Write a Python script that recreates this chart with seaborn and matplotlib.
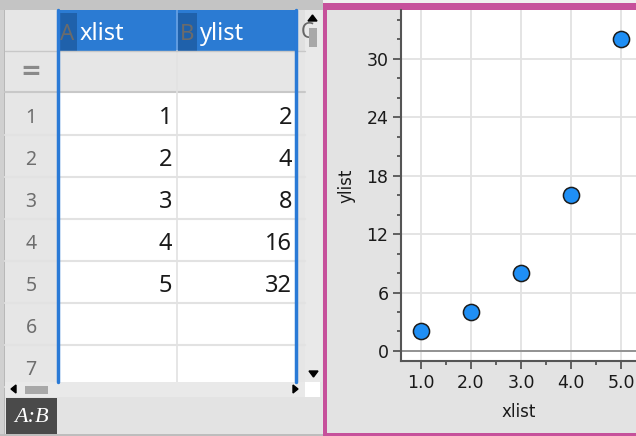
import matplotlib
matplotlib.use("Agg")
import matplotlib.pyplot as plt
from matplotlib.patches import Rectangle, Polygon
import seaborn as sns
import pandas as pd

# ---- data ----
col_names = ["xlist", "ylist"]
col_letters = ["A", "B"]
xlist = [1, 2, 3, 4, 5]
ylist = [2, 4, 8, 16, 32]
row_numbers = [1, 2, 3, 4, 5, 6, 7]
x_ticks = [1.0, 2.0, 3.0, 4.0, 5.0]
y_ticks = [0, 6, 12, 18, 24, 30]

sns.set_theme(style="white")
plt.rcParams['font.family'] = ['DejaVu Sans']

W, H = 636, 436
fig = plt.figure(figsize=(W / 100, H / 100), dpi=100)
fig.patch.set_facecolor("#e3e3e3")

# background / spreadsheet axes in pixel coordinates
bg = fig.add_axes([0, 0, 1, 1])
bg.set_xlim(0, W)
bg.set_ylim(H, 0)
bg.axis("off")

def rect(x0, y0, x1, y1, color, z=1, **kw):
    bg.add_patch(Rectangle((x0, y0), x1 - x0, y1 - y0, facecolor=color,
                           edgecolor="none", zorder=z, **kw))

# left panel base
rect(0, 0, 323, H, "#e6e6e6", 0)
rect(0, 0, 323, 10, "#c4c4c4", 1)          # top strip
rect(0, 10, 4, 436, "#d0d0d0", 1)          # left edge
rect(4, 10, 5, 434, "#b8b8b8", 1)
# header row
rect(5, 10, 57, 51, "#e6e6e6", 1)
rect(57, 10, 297, 51, "#2b7bd3", 1)
rect(297, 10, 305, 51, "#e0e0e0", 1)
rect(176, 10, 177.5, 51, "#5f9be0", 2)
bg.text(301, 33, "C", color="#666666", fontsize=15, va="center", ha="left", zorder=3,
        clip_on=True, family="Noto Sans")
rect(305, 10, 322, 382, "#e9e9e9", 2)
# letter boxes + names
for i, (let, nm) in enumerate(zip(col_letters, col_names)):
    x0 = 57 + i * 120
    rect(x0 + 1, 13, x0 + 20, 51, "#1f61ab", 2)
    bg.text(x0 + 10.5, 34, let, color="#6b6b6b", fontsize=16, ha="center", va="center",
            zorder=3, family="Noto Sans")
    bg.text(x0 + 23, 33.5, nm, color="white", fontsize=17, ha="left", va="center",
            zorder=3, family="Noto Sans")
# formula row
rect(57, 51, 297, 93, "#e6e6e6", 1)
bg.plot([5, 305], [92, 92], color="#c8c8c8", lw=1.5, zorder=2)
bg.text(31, 72, "=", color="#8a8a8a", fontsize=18, ha="center", va="center", zorder=3,
        fontweight="bold")
# data rows
rect(57, 93, 297, 382, "white", 1)
for k, rn in enumerate(row_numbers):
    top = 93 + 42 * k
    bg.plot([5, 305], [top + 42, top + 42], color="#e2e2e2", lw=1.5, zorder=2)
    bg.text(31, top + 25, str(rn), color="#6e6e6e", fontsize=14, ha="center",
            va="center", zorder=3, family="Noto Sans")
    if k < len(xlist):
        bg.text(172, top + 25, str(xlist[k]), color="#1a1a1a", fontsize=17,
                ha="right", va="center", zorder=3, family="Noto Sans")
        bg.text(292, top + 25, str(ylist[k]), color="#1a1a1a", fontsize=17,
                ha="right", va="center", zorder=3, family="Noto Sans")
bg.plot([176.5, 176.5], [51, 382], color="#e2e2e2", lw=1.2, zorder=2)
bg.plot([5, 305], [51, 51], color="#c8c8c8", lw=1, zorder=2)
# blue selection verticals
bg.plot([57.5, 57.5], [10, 382], color="#2a7ad6", lw=2.5, zorder=4)
bg.plot([296, 296], [10, 382], color="#2a7ad6", lw=2.5, zorder=4)
# vertical scrollbar
bg.add_patch(Polygon([[308, 21], [317, 21], [312.5, 15]], color="black", zorder=4))
rect(309, 28, 317, 47, "#a8a8a8", 4)
bg.add_patch(Polygon([[309, 371], [318, 371], [313.5, 377]], color="black", zorder=4))
# horizontal scrollbar
rect(5, 382, 305, 397, "#e9e9e9", 2)
rect(305, 382, 320, 397, "white", 2)
bg.add_patch(Polygon([[16, 385], [16, 393], [11, 389]], color="black", zorder=4))
rect(25, 386, 48, 394, "#a8a8a8", 4)
bg.add_patch(Polygon([[293, 385], [293, 393], [298, 389]], color="black", zorder=4))
# bottom bar
rect(5, 397, 322, 434, "#e3e3e3", 2)
rect(6, 398, 57, 434, "#4a4a4a", 3)
bg.text(31.5, 417, "A:B", color="white", fontsize=16, ha="center", va="center",
        family="Liberation Serif", style="italic", zorder=4)
rect(0, 434, 323, 436, "#bdbdbd", 3)

# right panel
rect(323, 0, W, 3, "#f0f0f0", 1)
rect(323, 3, W, H, "#c6519b", 1)
rect(327, 10, W, 433, "#e3e3e3", 2)

# ---- scatter plot ----
ax = fig.add_axes([401 / W, (H - 361) / H, (W - 401) / W, 351 / H])
ax.set_zorder(5)
ax.set_facecolor("white")
df = pd.DataFrame({"xlist": xlist, "ylist": ylist})
ax.axhline(0, color="#8c8c8c", lw=1.3, zorder=2)
sns.scatterplot(data=df, x="xlist", y="ylist", ax=ax, s=135, color="#1f8ff5",
                edgecolor="#1c1c1c", linewidth=1.1, zorder=5, clip_on=False)
ax.set_xlim(0.6, 5.3)
ax.set_ylim(-1.03, 35)
ax.set_xticks(x_ticks)
ax.set_xticklabels([f"{t:.1f}" for t in x_ticks])
ax.set_yticks(y_ticks)
ax.set_yticklabels([str(t) for t in y_ticks])
ax.set_xticks([1.5, 2.5, 3.5, 4.5], minor=True)
ax.set_yticks([v for v in range(2, 35, 2) if v % 6 != 0], minor=True)
ax.grid(True, which="major", color="#e2e2e2", lw=1.3, zorder=0)
ax.set_axisbelow(True)
for s in ["top", "right"]:
    ax.spines[s].set_visible(False)
for s in ["left", "bottom"]:
    ax.spines[s].set_color("#555555")
    ax.spines[s].set_linewidth(1.5)
ax.tick_params(axis="both", which="major", length=6, width=1.3, color="#555555",
               labelsize=12.5, labelcolor="#1a1a1a", pad=3, direction="out",
               left=True, bottom=True)
ax.tick_params(axis="both", which="minor", length=3, width=1.3, color="#555555",
               direction="out", left=True, bottom=True)
ax.set_xlabel("xlist", fontsize=12, color="#1a1a1a", labelpad=8)
ax.set_ylabel("ylist", fontsize=12, color="#1a1a1a", labelpad=8)

fig.savefig("out.png", dpi=100, facecolor=fig.get_facecolor())
